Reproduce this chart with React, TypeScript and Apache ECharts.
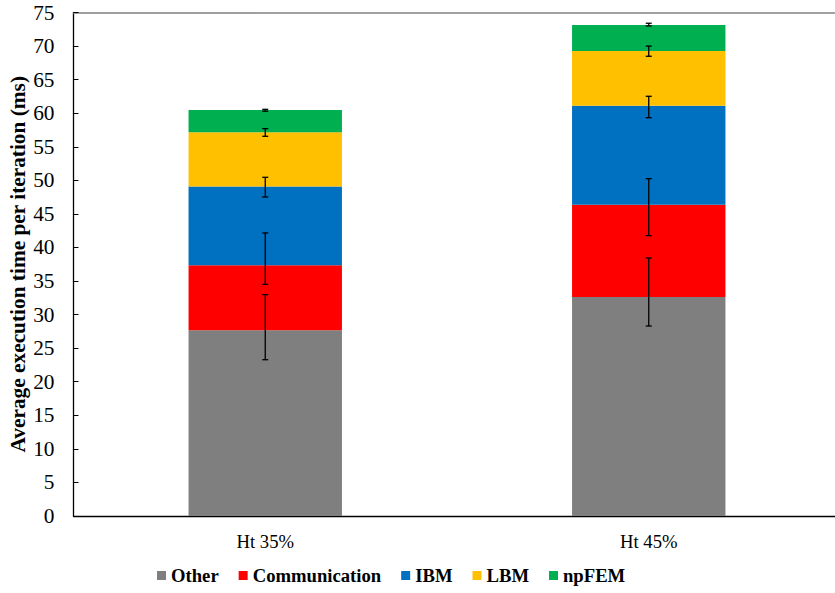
import React, { useEffect, useRef } from "react";
import * as echarts from "echarts";

const categories = ["Ht 35%", "Ht 45%"];
const seriesNames = ["Other", "Communication", "IBM", "LBM", "npFEM"];
const seriesColors = ["#7f7f7f", "#ff0000", "#0070c0", "#ffc000", "#00b050"];
const otherValues = [27.66, 32.62];
const communicationValues = [9.68, 13.76];
const ibmValues = [11.76, 14.74];
const lbmValues = [8.05, 8.15];
const npfemValues = [3.33, 3.87];
// error bar extents [low, high] per category
const otherErr = [[23.28, 32.97], [28.3, 38.43]];
const communicationErr = [[34.5, 42.16], [41.76, 50.25]];
const ibmErr = [[47.52, 50.45], [59.33, 62.52]];
const lbmErr = [[56.56, 57.7], [68.48, 70.0]];
const npfemErr = [[60.3, 60.58], [73.0, 73.4]];
const yTicks = { min: 0, max: 75, interval: 5 };

const FONT = "'Liberation Serif', 'Times New Roman', serif";

export default function App() {
  const ref = useRef<HTMLDivElement>(null);
  useEffect(() => {
    if (!ref.current) return;
    const chart = echarts.init(ref.current, undefined, { renderer: "svg" });
    const allValues = [otherValues, communicationValues, ibmValues, lbmValues, npfemValues];
    const allErr = [otherErr, communicationErr, ibmErr, lbmErr, npfemErr];
    const errData: number[][] = [];
    allErr.forEach((arr) => arr.forEach((e, ci) => errData.push([ci, e[0], e[1]])));

    const barSeries = seriesNames.map((name, i) => ({
      type: "bar",
      name,
      stack: "total",
      barWidth: "40%",
      itemStyle: { color: seriesColors[i] },
      data: allValues[i],
    }));

    chart.setOption({
      animation: false,
      textStyle: { fontFamily: FONT },
      grid: {
        left: 73.5,
        top: 12.5,
        width: 767,
        bottom: 77,
        containLabel: false,
        outerBoundsMode: "none",
      },
      legend: {
        data: seriesNames,
        left: 152,
        top: 561,
        icon: "rect",
        itemWidth: 9,
        itemHeight: 9,
        itemGap: 20,
        textStyle: { fontFamily: FONT, fontWeight: "bold", fontSize: 18.67, color: "#000" },
      },
      xAxis: [
        {
          type: "category",
          data: categories,
          axisLine: { lineStyle: { color: "#000", width: 1.3 } },
          axisTick: { show: false },
          axisLabel: { color: "#000", fontSize: 18.67, fontFamily: FONT, margin: 16 },
        },
        {
          type: "category",
          data: categories,
          position: "top",
          axisLine: { lineStyle: { color: "#808080", width: 1.5 } },
          axisTick: { show: false },
          axisLabel: { show: false },
        },
      ],
      yAxis: {
        type: "value",
        min: yTicks.min,
        max: yTicks.max,
        interval: yTicks.interval,
        name: "Average execution time per iteration (ms)",
        nameLocation: "middle",
        nameGap: 45,
        nameMoveOverlap: false,
        nameTextStyle: { fontFamily: FONT, fontWeight: "bold", fontSize: 21.33, color: "#000" },
        axisLine: { show: true, lineStyle: { color: "#000", width: 1.3 } },
        axisTick: { show: true, inside: true, length: 5, lineStyle: { color: "#000" } },
        axisLabel: { color: "#000", fontSize: 21.33, fontFamily: FONT, margin: 19 },
        splitLine: { show: false },
      },
      series: [
        ...barSeries,
        {
          type: "custom",
          name: "err",
          data: errData,
          encode: { x: 0, y: [1, 2] },
          z: 10,
          renderItem: (params: any, api: any) => {
            const ci = api.value(0);
            const lo = api.coord([ci, api.value(1)]);
            const hi = api.coord([ci, api.value(2)]);
            const x = lo[0];
            const hw = 3;
            const style = { stroke: "#000", lineWidth: 1.3, fill: "none" };
            return {
              type: "group",
              children: [
                { type: "line", shape: { x1: x, y1: lo[1], x2: x, y2: hi[1] }, style },
                { type: "line", shape: { x1: x - hw, y1: lo[1], x2: x + hw, y2: lo[1] }, style },
                { type: "line", shape: { x1: x - hw, y1: hi[1], x2: x + hw, y2: hi[1] }, style },
              ],
            };
          },
        },
      ],
    });
    return () => chart.dispose();
  }, []);
  return (
    <div
      ref={ref}
      style={{ position: "fixed", left: 0, top: 0, width: 835, height: 593, background: "#fff" }}
    />
  );
}
